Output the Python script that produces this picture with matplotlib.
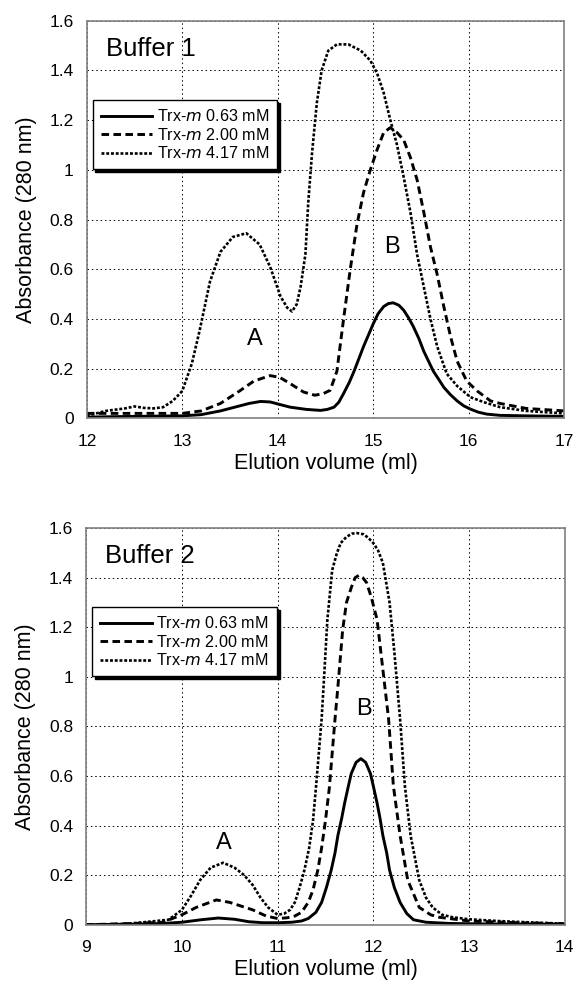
import numpy as np
import matplotlib
matplotlib.use("Agg")
import matplotlib.pyplot as plt

plt.rcParams['font.family'] = ['Liberation Sans', 'DejaVu Sans']

# Buffer 1 : elution volume (ml) / absorbance
b1_solid_x = [12.0, 12.5, 13.0, 13.2, 13.4, 13.6, 13.7, 13.82, 13.92, 14.02, 14.13, 14.3, 14.45, 14.52,
              14.59, 14.64, 14.69, 14.75, 14.8, 14.85, 14.9, 14.95, 15.0, 15.05, 15.11, 15.16, 15.21,
              15.27, 15.32, 15.37, 15.42, 15.48, 15.53, 15.58, 15.63, 15.69, 15.74, 15.81, 15.88,
              15.95, 16.02, 16.1, 16.19, 16.33, 16.6, 17.0]
b1_solid_y = [0.005, 0.008, 0.01, 0.015, 0.03, 0.05, 0.06, 0.068, 0.066, 0.056, 0.045, 0.036, 0.032, 0.036,
              0.045, 0.065, 0.10, 0.145, 0.19, 0.24, 0.29, 0.335, 0.38, 0.42, 0.45, 0.462, 0.465,
              0.455, 0.435, 0.405, 0.37, 0.32, 0.27, 0.23, 0.19, 0.155, 0.125, 0.095, 0.07,
              0.05, 0.037, 0.025, 0.017, 0.012, 0.01, 0.008]

b1_dash_x = [12.0, 12.5, 13.0, 13.2, 13.4, 13.6, 13.75, 13.92, 14.02, 14.13, 14.27, 14.39, 14.48, 14.55,
             14.62, 14.69, 14.76, 14.83, 14.9, 14.97, 15.04, 15.11, 15.18, 15.25, 15.32, 15.39, 15.46,
             15.53, 15.6, 15.67, 15.74, 15.81, 15.88, 15.98, 16.09, 16.23, 16.33, 16.6, 17.0]
b1_dash_y = [0.02, 0.02, 0.02, 0.03, 0.06, 0.11, 0.15, 0.172, 0.165, 0.14, 0.106, 0.093, 0.10, 0.113,
             0.19, 0.40, 0.60, 0.78, 0.91, 1.00, 1.08, 1.15, 1.17, 1.15, 1.12, 1.05, 0.96,
             0.83, 0.69, 0.58, 0.45, 0.33, 0.23, 0.15, 0.11, 0.07, 0.06, 0.04, 0.03]

b1_dot_x = [12.0, 12.1, 12.2, 12.3, 12.4, 12.5, 12.6, 12.7, 12.8, 12.9, 13.0, 13.1, 13.18, 13.29,
            13.4, 13.53, 13.67, 13.81, 13.92, 14.03, 14.1, 14.15, 14.2, 14.24, 14.29, 14.32, 14.36,
            14.41, 14.46, 14.53, 14.62, 14.74, 14.87, 14.97, 15.04, 15.11, 15.18, 15.25, 15.32,
            15.39, 15.46, 15.53, 15.6, 15.67, 15.77, 15.88, 16.02, 16.16, 16.33, 16.6, 17.0]
b1_dot_y = [0.01, 0.02, 0.03, 0.035, 0.04, 0.048, 0.042, 0.04, 0.045, 0.07, 0.11, 0.22, 0.35, 0.55,
            0.67, 0.73, 0.745, 0.70, 0.61, 0.49, 0.445, 0.43, 0.46, 0.53, 0.66, 0.87, 1.07,
            1.27, 1.40, 1.48, 1.505, 1.505, 1.48, 1.44, 1.39, 1.31, 1.20, 1.10, 0.97,
            0.83, 0.66, 0.53, 0.40, 0.29, 0.18, 0.13, 0.085, 0.065, 0.045, 0.03, 0.02]

# Buffer 2
b2_solid_x = [9.0, 9.5, 9.8, 10.0, 10.2, 10.38, 10.55, 10.7, 10.85, 11.0, 11.15, 11.25, 11.32, 11.4,
              11.46, 11.51, 11.56, 11.6, 11.63, 11.67, 11.7, 11.74, 11.77, 11.82, 11.87, 11.92, 11.97,
              12.0, 12.04, 12.07, 12.1, 12.14, 12.17, 12.22, 12.28, 12.35, 12.42, 12.55, 12.8,
              13.2, 14.0]
b2_solid_y = [0.0, 0.002, 0.005, 0.01, 0.02, 0.027, 0.022, 0.012, 0.008, 0.008, 0.01, 0.015, 0.025, 0.05,
              0.09, 0.15, 0.22, 0.29, 0.36, 0.43, 0.49, 0.56, 0.61, 0.655, 0.67, 0.655, 0.61,
              0.56, 0.49, 0.43, 0.36, 0.29, 0.22, 0.15, 0.09, 0.045, 0.02, 0.01, 0.005,
              0.003, 0.002]

b2_dash_x = [9.0, 9.5, 9.8, 10.0, 10.15, 10.36, 10.5, 10.62, 10.74, 10.88, 11.0, 11.1, 11.18, 11.25,
             11.32, 11.37, 11.42, 11.46, 11.5, 11.54, 11.57, 11.6, 11.63, 11.68, 11.72, 11.77, 11.81,
             11.85, 11.89, 11.93, 11.98, 12.04, 12.1, 12.16, 12.21, 12.28, 12.36, 12.48, 12.6,
             12.69, 13.0, 13.5, 14.0]
b2_dash_y = [0.0, 0.005, 0.01, 0.04, 0.07, 0.10, 0.09, 0.075, 0.06, 0.035, 0.025, 0.028, 0.035, 0.05,
             0.09, 0.14, 0.22, 0.31, 0.42, 0.55, 0.69, 0.83, 0.96, 1.19, 1.30, 1.36, 1.40,
             1.41, 1.40, 1.38, 1.32, 1.23, 1.03, 0.83, 0.56, 0.36, 0.18, 0.07, 0.04,
             0.03, 0.015, 0.008, 0.004]

b2_dot_x = [9.0, 9.4, 9.6, 9.86, 10.0, 10.1, 10.19, 10.3, 10.43, 10.55, 10.65, 10.74, 10.82, 10.9,
            11.0, 11.07, 11.13, 11.18, 11.23, 11.28, 11.33, 11.37, 11.4, 11.43, 11.46, 11.48, 11.52,
            11.57, 11.62, 11.66, 11.72, 11.78, 11.83, 11.9, 11.95, 12.0, 12.05, 12.1, 12.17,
            12.22, 12.28, 12.33, 12.39, 12.48, 12.55, 12.62, 12.72, 12.83, 13.0, 13.3, 13.6, 14.0]
b2_dot_y = [0.0, 0.003, 0.01, 0.02, 0.06, 0.12, 0.18, 0.23, 0.25, 0.23, 0.20, 0.16, 0.11, 0.07,
            0.04, 0.045, 0.06, 0.09, 0.15, 0.22, 0.31, 0.42, 0.55, 0.69, 0.83, 0.96, 1.23,
            1.43, 1.50, 1.54, 1.565, 1.578, 1.58, 1.575, 1.56, 1.54, 1.51, 1.46, 1.30,
            1.10, 0.83, 0.56, 0.36, 0.18, 0.11, 0.07, 0.04, 0.03, 0.022, 0.015, 0.01, 0.004]

series_labels = ['0.63 mM', '2.00 mM', '4.17 mM']

panels = [
    dict(title='Buffer 1', xlim=(12, 17), xticks=[12, 13, 14, 15, 16, 17],
         data=[(b1_solid_x, b1_solid_y), (b1_dash_x, b1_dash_y), (b1_dot_x, b1_dot_y)],
         A=(13.76, 0.32), B=(15.2, 0.69), rect=[0.151, 0.577, 0.830, 0.402]),
    dict(title='Buffer 2', xlim=(9, 14), xticks=[9, 10, 11, 12, 13, 14],
         data=[(b2_solid_x, b2_solid_y), (b2_dash_x, b2_dash_y), (b2_dot_x, b2_dot_y)],
         A=(10.44, 0.33), B=(11.9, 0.87), rect=[0.150, 0.065, 0.832, 0.401]),
]

styles = [
    dict(linestyle='-', linewidth=2.1),
    dict(linestyle=(0, (2.6, 1.5)), linewidth=2.1),
    dict(linestyle=(0, (1.1, 0.7)), linewidth=1.9),
]

fig = plt.figure(figsize=(5.75, 9.89), dpi=100)

for p in panels:
    ax = fig.add_axes(p['rect'])
    for (x, y), st, lab in zip(p['data'], styles, series_labels):
        ax.plot(x, y, color='black', label='Trx-$\\it{m}$ ' + lab, **st)

    ax.set_xlim(*p['xlim'])
    ax.set_ylim(0, 1.6)
    ax.set_xticks(p['xticks'])
    ax.set_yticks([0, 0.2, 0.4, 0.6, 0.8, 1.0, 1.2, 1.4, 1.6])
    ax.set_yticklabels(['0', '0.2', '0.4', '0.6', '0.8', '1', '1.2', '1.4', '1.6'])
    ax.tick_params(length=0, labelsize=12.5)
    ax.tick_params(axis='x', pad=11)
    ax.tick_params(axis='y', pad=9.5)
    ax.grid(True, color='black', linestyle=(0, (1.5, 3)), linewidth=0.7)
    for s in ax.spines.values():
        s.set_color('#808080')
        s.set_linewidth(1.2)

    ax.set_xlabel('Elution volume (ml)', fontsize=15.5, labelpad=3)
    ax.set_ylabel('Absorbance (280 nm)', fontsize=15.5, labelpad=9)

    ax.text(0.04, 0.93, p['title'], transform=ax.transAxes, fontsize=18.5,
            va='center', ha='left')
    ax.text(*p['A'], 'A', fontsize=17, ha='center', va='center')
    ax.text(*p['B'], 'B', fontsize=17, ha='center', va='center')

    leg = ax.legend(loc='upper left', bbox_to_anchor=(0.012, 0.80), borderaxespad=0,
                    fontsize=11.6, handlelength=3.2, handletextpad=0.3, labelspacing=0.15,
                    borderpad=0.5, frameon=True, fancybox=False, edgecolor='black',
                    shadow={'color': 'black', 'alpha': 1.0})
    leg.get_frame().set_linewidth(1.0)

fig.savefig('out.png', dpi=100)
